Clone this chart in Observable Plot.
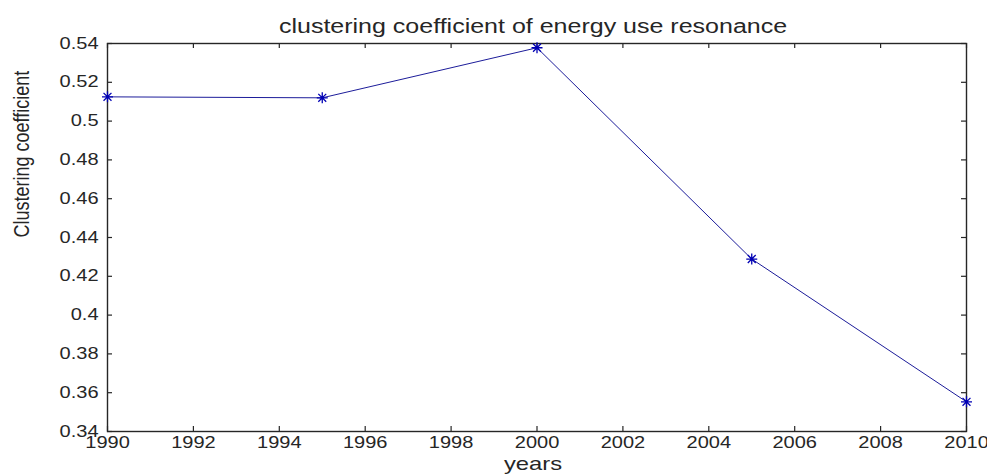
<!DOCTYPE html>
<html>
<head>
<meta charset="utf-8">
<script src="https://cdn.jsdelivr.net/npm/d3@7"></script>
<script src="https://cdn.jsdelivr.net/npm/@observablehq/plot@0.6"></script>
<style>
  html, body { margin: 0; padding: 0; background: #fff; }
  svg { display: block; }
</style>
</head>
<body>
<script>
// ---- data ----
const years = [1990, 1995, 2000, 2005, 2010];
const coeff = [0.5125, 0.5120, 0.5378, 0.4289, 0.3553];
const xTicks = [1990, 1992, 1994, 1996, 1998, 2000, 2002, 2004, 2006, 2008, 2010];
const yTicks = [0.34, 0.36, 0.38, 0.40, 0.42, 0.44, 0.46, 0.48, 0.50, 0.52, 0.54];
const titleText = "clustering coefficient of energy use resonance";
const xLabel = "years";
const yLabel = "Clustering coefficient";

const data = years.map((y, i) => ({year: y, value: coeff[i]}));

const W = 987, H = 475;
const mL = 107, mR = 21, mT = 43, mB = 44;
const plotW = W - mL - mR, plotH = H - mT - mB;
const tickLen = 5;
const font = "Liberation Sans, Arial, sans-serif";

// MATLAB-like '*' marker
const star = {
  draw(ctx, size) {
    const r = Math.sqrt(size / Math.PI);
    const d = r * 0.72;
    ctx.moveTo(-r, 0); ctx.lineTo(r, 0);
    ctx.moveTo(0, -r); ctx.lineTo(0, r);
    ctx.moveTo(-d, -d); ctx.lineTo(d, d);
    ctx.moveTo(-d, d); ctx.lineTo(d, -d);
  }
};

const ink = "#262626";

const chart = Plot.plot({
  width: W, height: H,
  marginLeft: mL, marginRight: mR, marginTop: mT, marginBottom: mB,
  style: {fontFamily: font, background: "#fff", color: ink},
  x: {domain: [1990, 2010], axis: null},
  y: {domain: [0.34, 0.54], axis: null},
  marks: [
    // inward ticks, all four sides
    Plot.tickX(xTicks, {x: d => d, insetBottom: plotH - tickLen, stroke: ink, strokeWidth: 1.2}),
    Plot.tickX(xTicks, {x: d => d, insetTop: plotH - tickLen, stroke: ink, strokeWidth: 1.2}),
    Plot.tickY(yTicks, {y: d => d, insetRight: plotW - tickLen, stroke: ink, strokeWidth: 1.2}),
    Plot.tickY(yTicks, {y: d => d, insetLeft: plotW - tickLen, stroke: ink, strokeWidth: 1.2}),
    Plot.frame({stroke: ink, strokeWidth: 1.4}),
    // tick labels
    Plot.text(xTicks, {x: d => d, text: d => String(d), frameAnchor: "bottom", lineAnchor: "middle", dy: 11.5,
      fontSize: 16, fill: ink, textAnchor: "middle"}),
    Plot.text(yTicks, {y: d => d, text: d => String(+d.toFixed(2)), frameAnchor: "left", lineAnchor: "middle", dx: -9,
      fontSize: 16, fill: ink, textAnchor: "end"}),
    // data
    Plot.line(data, {x: "year", y: "value", stroke: "#1c1c9a", strokeWidth: 1}),
    Plot.dot(data, {x: "year", y: "value", symbol: star, r: 5.5, stroke: "#0000b4", strokeWidth: 1.3, fill: "none"}),
    // titles
    Plot.text([titleText], {text: d => d, frameAnchor: "top", lineAnchor: "middle", dy: -16.5, dx: -4, fontSize: 20, fill: ink}),
    Plot.text([xLabel], {text: d => d, frameAnchor: "bottom", lineAnchor: "middle", dy: 32, dx: -4, fontSize: 19, fill: ink}),
    Plot.text([yLabel], {text: d => d, frameAnchor: "left", lineAnchor: "middle", dx: -86, rotate: -90, fontSize: 18, fill: ink})
  ]
});

document.body.appendChild(chart);

// horizontally stretch glyphs (the reference figure is widened)
const stretch = 1.25;
chart.querySelectorAll("text").forEach(t => {
  const tr = t.getAttribute("transform") || "";
  if (tr.includes("rotate")) {
    t.setAttribute("transform", tr + ` scale(1,${stretch})`);
  } else {
    const len = t.getComputedTextLength();
    if (len > 0) {
      t.setAttribute("textLength", (len * stretch).toFixed(2));
      t.setAttribute("lengthAdjust", "spacingAndGlyphs");
    }
  }
});
</script>
</body>
</html>
